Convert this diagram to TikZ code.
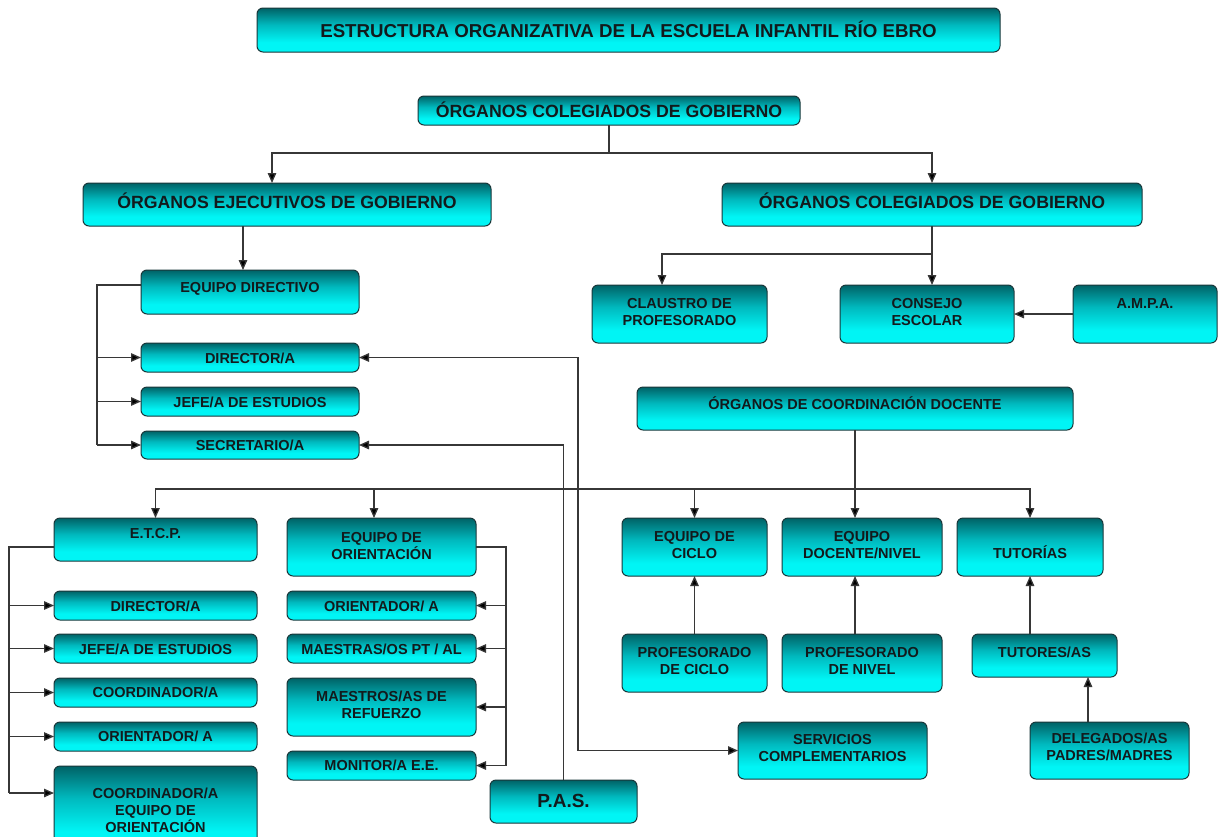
\documentclass[tikz,border=0pt]{standalone}
\usepackage{fontspec}
\setmainfont{Liberation Sans}
\usetikzlibrary{arrows.meta}
\definecolor{ct}{RGB}{0,98,102}
\definecolor{cm}{RGB}{0,185,190}
\definecolor{cb}{RGB}{0,245,245}
\definecolor{bord}{RGB}{25,55,58}
\definecolor{txt}{RGB}{18,26,28}
\definecolor{lnc}{RGB}{55,55,55}
\pgfdeclareverticalshading{boxsh}{100bp}{color(0bp)=(cb); color(25bp)=(cb); color(36bp)=(cb); color(56bp)=(cm); color(75bp)=(ct); color(100bp)=(ct)}
\newcommand\ml[1]{\vtop{\halign{\hfil##\hfil\cr#1\crcr}}}
\newcommand\fsS{\fontsize{14.5pt}{17pt}\selectfont\bfseries}
\newcommand\fsL{\fontsize{17.7pt}{21pt}\selectfont\bfseries}
\newcommand\fsT{\fontsize{18.7pt}{22pt}\selectfont\bfseries}
\newcommand\fsP{\fontsize{19pt}{22pt}\selectfont\bfseries}
\tikzset{
  obx/.style={draw=bord, line width=1pt, rounded corners=6pt, shade, shading=boxsh, inner sep=0pt, outer sep=0pt},
  lbl/.style={anchor=base, inner sep=0pt, text=txt},
  ln/.style={draw=lnc, line width=1.3pt},
  tipa/.tip={Triangle[length=10pt,width=8.5pt,fill=black]},
  arr/.style={ln, -tipa},
  arrb/.style={ln, tipa-tipa}
}
\newcommand\obox[8]{%
  \node[obx, minimum width={(#4)-(#2)}, minimum height={(#5)-(#3)}] (#1) at ({((#2)+(#4))/2},{((#3)+(#5))/2}) {};
  \node[lbl, font=#6] (#1t) at ({((#2)+(#4))/2},#7) {\ml{#8}};
}
\begin{document}
\begin{tikzpicture}[x=1pt,y=-1pt]
\clip (0,0) rectangle (1220,836);
\fill[white] (0,0) rectangle (1220,836);

\obox{title}{257}{8}{1000}{52}{\fsT}{37.6}{ESTRUCTURA ORGANIZATIVA DE LA ESCUELA INFANTIL RÍO EBRO}
\obox{gob}{418}{96}{800}{125}{\fsL}{117.3}{ÓRGANOS COLEGIADOS DE GOBIERNO}
\obox{eje}{83}{183}{491}{226}{\fsL}{208.3}{ÓRGANOS EJECUTIVOS DE GOBIERNO}
\obox{col}{722}{183}{1142}{226}{\fsL}{208.3}{ÓRGANOS COLEGIADOS DE GOBIERNO}
\obox{ed}{141}{270}{359}{314}{\fsS}{292.2}{EQUIPO DIRECTIVO}
\obox{dir}{141}{343}{359}{372}{\fsS}{363}{DIRECTOR/A}
\obox{jefe}{141}{387}{359}{416}{\fsS}{407}{JEFE/A DE ESTUDIOS}
\obox{sec}{141}{431}{359}{459}{\fsS}{450}{SECRETARIO/A}
\obox{cla}{592}{285}{767}{343}{\fsS}{308}{CLAUSTRO DE\cr PROFESORADO}
\obox{con}{840}{285}{1014}{343}{\fsS}{308}{CONSEJO\cr ESCOLAR}
\obox{ampa}{1073}{285}{1217}{343}{\fsS}{308}{A.M.P.A.}
\obox{coord}{637}{387}{1073}{430}{\fsS}{409}{ÓRGANOS DE COORDINACIÓN DOCENTE}
\obox{etcp}{54}{518}{257}{561}{\fsS}{538}{E.T.C.P.}
\obox{eqor}{287}{518}{476}{576}{\fsS}{542}{EQUIPO DE\cr ORIENTACIÓN}
\obox{eqci}{622}{518}{767}{576}{\fsS}{541}{EQUIPO DE\cr CICLO}
\obox{eqdo}{782}{518}{942}{576}{\fsS}{541}{EQUIPO\cr DOCENTE/NIVEL}
\obox{tuto}{957}{518}{1103}{576}{\fsS}{558}{TUTORÍAS}
\obox{ldir}{54}{591}{257}{620}{\fsS}{611}{DIRECTOR/A}
\obox{ljefe}{54}{634}{257}{663}{\fsS}{654}{JEFE/A DE ESTUDIOS}
\obox{lcoo}{54}{678}{257}{707}{\fsS}{697}{COORDINADOR/A}
\obox{lori}{54}{722}{257}{751}{\fsS}{741}{ORIENTADOR/ A}
\obox{lceo}{54}{766}{257}{850}{\fsS}{798}{COORDINADOR/A\cr EQUIPO DE\cr ORIENTACIÓN}
\obox{mori}{287}{591}{476}{620}{\fsS}{611}{ORIENTADOR/ A}
\obox{mmae}{287}{634}{476}{663}{\fsS}{654}{MAESTRAS/OS PT / AL}
\obox{mref}{287}{678}{476}{736}{\fsS}{701}{MAESTROS/AS DE\cr REFUERZO}
\obox{mmon}{287}{751}{476}{780}{\fsS}{770}{MONITOR/A E.E.}
\obox{pci}{622}{634}{767}{692}{\fsS}{657}{PROFESORADO\cr DE CICLO}
\obox{pni}{782}{634}{942}{692}{\fsS}{657}{PROFESORADO\cr DE NIVEL}
\obox{tut}{972}{634}{1117}{677}{\fsS}{657}{TUTORES/AS}
\obox{del}{1030}{722}{1189}{779}{\fsS}{743}{DELEGADOS/AS\cr PADRES/MADRES}
\obox{serv}{738}{722}{927}{779}{\fsS}{744}{SERVICIOS\cr COMPLEMENTARIOS}
\obox{pas}{490}{780}{637}{823}{\fsP}{807}{P.A.S.}

% top level
\coordinate (hA) at (0,153);
\coordinate (xE) at (272,0);
\draw[ln] (gob.south) -- (gob.south |- hA);
\draw[arr] (gob.south |- hA) -| (eje.north -| xE);
\draw[arr] (gob.south |- hA) -| (col.north);
% ejecutivos
\coordinate (xD) at (243,0);
\draw[arr] (eje.south -| xD) -- (ed.north -| xD);
\coordinate (xB) at (97,285);
\draw[ln] (ed.west |- xB) -- (xB) -- (xB |- sec.west);
\draw[arr] (xB |- dir.west) -- (dir.west);
\draw[arr] (xB |- jefe.west) -- (jefe.west);
\draw[arr] (xB |- sec.west) -- (sec.west);
% director <-> servicios, pas -> secretario
\coordinate (xS) at (578,0);
\draw[arrb] (dir.east) -| (xS |- serv.west) -- (serv.west);
\draw[arr] (pas.north) |- (sec.east);
% colegiados
\coordinate (hC) at (0,254);
\coordinate (xCl) at (662,0);
\draw[arr] (col.south) -- (col.south |- con.north);
\draw[arr] (col.south |- hC) -| (cla.north -| xCl);
\draw[arr] (ampa.west) -- (con.east);
% coordinacion
\coordinate (hD) at (0,489);
\coordinate (xO) at (374,0);
\draw[arr] (coord.south) -- (coord.south |- eqdo.north);
\draw[arr] (coord.south |- hD) -| (etcp.north);
\draw[arr] (coord.south |- hD) -| (tuto.north);
\draw[arr] (xO |- hD) -- (xO |- eqor.north);
\draw[arr] (eqci.north |- hD) -- (eqci.north);
% etcp bracket
\coordinate (xL) at (9,547);
\coordinate (xLb) at (9,793);
\draw[ln] (etcp.west |- xL) -- (xL) -- (xLb);
\draw[arr] (xL |- ldir.west) -- (ldir.west);
\draw[arr] (xL |- ljefe.west) -- (ljefe.west);
\draw[arr] (xL |- lcoo.west) -- (lcoo.west);
\draw[arr] (xL |- lori.west) -- (lori.west);
\draw[arr] (xLb) -- (lceo.west |- xLb);
% orientacion bracket
\coordinate (xM) at (506,0);
\draw[ln] (eqor.east) -- (eqor.east -| xM) -- (xM |- mmon.east);
\draw[arr] (xM |- mori.east) -- (mori.east);
\draw[arr] (xM |- mmae.east) -- (mmae.east);
\draw[arr] (xM |- mref.east) -- (mref.east);
\draw[arr] (xM |- mmon.east) -- (mmon.east);
% upward arrows
\coordinate (xN) at (855,0);
\coordinate (xT) at (1088,0);
\draw[arr] (pci.north) -- (eqci.south);
\draw[arr] (pni.north -| xN) -- (eqdo.south -| xN);
\draw[arr] (tut.north -| tuto.south) -- (tuto.south);
\draw[arr] (del.north -| xT) -- (tut.south -| xT);
\end{tikzpicture}
\end{document}
